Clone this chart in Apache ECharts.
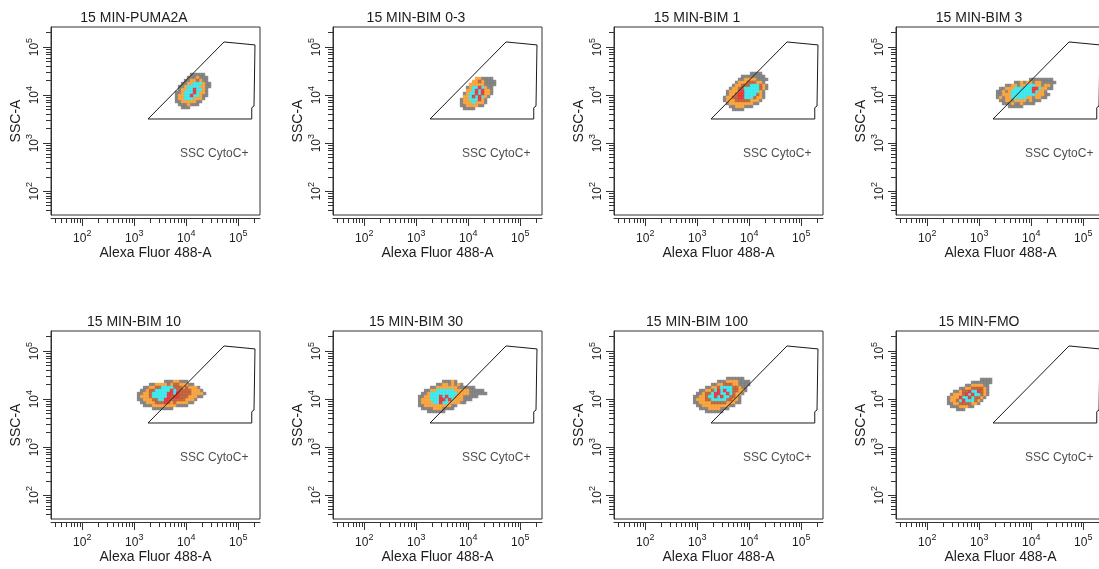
<!DOCTYPE html>
<html>
<head>
<meta charset="utf-8">
<script src="https://cdn.jsdelivr.net/npm/echarts@6/dist/echarts.min.js"></script>
<style>
  html, body { margin: 0; padding: 0; background: #fff; }
  #chart { width: 1099px; height: 569px; }
</style>
</head>
<body>
<div id="chart"></div>
<script>
// ---- data ----
const panelTitles = ['15 MIN-PUMA2A', '15 MIN-BIM 0-3', '15 MIN-BIM 1', '15 MIN-BIM 3',
                     '15 MIN-BIM 10', '15 MIN-BIM 30', '15 MIN-BIM 100', '15 MIN-FMO'];
const xName = 'Alexa Fluor 488-A';
const yName = 'SSC-A';
const gateName = 'SSC CytoC+';

// axis ranges (linear units, shown on log scale)
const xRange = [25, 262144];
const yRange = [32, 262144];
const decades = [2, 3, 4, 5];          // 10^n labels
const minorSteps = [2, 3, 4, 5, 6, 7, 8, 9];

// gate polygon (same in every panel)
const gateX = [1840, 53300, 210000, 201000, 182000, 182000, 1840];
const gateY = [3190, 128000, 111000, 5940, 5480, 3190, 3190];
const gateLabelX = 7600;
const gateLabelY = 594;

// density maps: top-left cell of each blob and its rows of levels
// . empty, g low, o, b, c, r high
const blobOriginX = [6500, 7430, 3350, 2250, 1210, 1160, 890, 257];
const blobOriginY = [26900, 22200, 28300, 21200, 23300, 23300, 26900, 25700];
const blobStepDec = [0.0577, 0.0625];
const blobs = [
  [ // PUMA2A
    '.....ggggg..',
    '....gggoggg.',
    '...ggoobogg.',
    '..ggoocccogg',
    '.ggoccccoogg',
    '.gooccrccog.',
    'ggocccrcoog.',
    'gooccrccogg.',
    'goocccooog..',
    'ggooooogg...',
    '.gggoggg....',
    '..ggg.......'
  ],
  [ // BIM 0-3
    '.....oogggg.',
    '....oobogggg',
    '...ooooogggg',
    '..goccrcogg.',
    '..oocrcroog.',
    '.goccrcroog.',
    '.oocrcrcog..',
    'goocccrog...',
    'gooocooog...',
    'ggoooogg....',
    '.gggg.......'
  ],
  [ // BIM 1
    '.........gggg..',
    '......gggggggg.',
    '.....ggoooogggg',
    '....gooobbboog.',
    '...goobbbcccbog',
    '..goobbcccccbog',
    '.gooobrcccccog.',
    '.goobrrccccbog.',
    'goobbrrcccboog.',
    'gooobbbbbooog..',
    '.goooooooogg...',
    '..ggoooggg.....',
    '...gggg........'
  ],
  [ // BIM 3
    '...........gggggggg.',
    '......ggogoogooggggg',
    '...ggoogoocccoogoog.',
    '.ggoooccccccrrcoogg.',
    'ggogocccccccrcoog...',
    'ggoooccccccccooogg..',
    'gogoocccccoogoogg...',
    '.ggoogoooogoggg.....',
    '..gggoggogggg.......',
    '....ggggg...........'
  ],
  [ // BIM 10
    '.........gggooggg......',
    '....ggoooobobbooogg....',
    '..ggoobbccccbbbobooog..',
    '.ggobbcccccrcbbbbbooog.',
    'ggoobcccccrrcrbbbboooog',
    'gooobcccccrbrrbbbooogg.',
    'ggooobbccrrbbbbbooog...',
    '.ggooobbbrboboooogg....',
    '..gggoooooooogggg......',
    '.....ggggggg...........'
  ],
  [ // BIM 30
    '........gggog..........',
    '......ggoogogog........',
    '....ggooooooogggggg....',
    '..ggooccccccoooooggggg.',
    '.ggocccccccccoooogggggg',
    'ggoocccrcrccoooggggg...',
    'gooocccrrcrcoooggg.....',
    'gooooccrccoooogg.......',
    'ggooooooooogg..........',
    '.ggggooogggg...........',
    '...gggggg..............'
  ],
  [ // BIM 100
    '...........gggggg..',
    '........gggoooogggg',
    '......ggoobbboogggg',
    '....ggoobccccbbogg.',
    '..ggoobcrcrccbboog.',
    '.ggobbcrrccrcboog..',
    'ggoobccrcrccbbog...',
    'gooobbcccccbboog...',
    'ggoooobbbbbooogg...',
    '.ggooooooooogg.....',
    '..gggooooggg.......',
    '....gggggg.........'
  ],
  [ // FMO
    '...........gggg',
    '........ggggggg',
    '......ggoooogg.',
    '....ggoobbbbog.',
    '..ggobbrccrbog.',
    '.gooobrcrccbog.',
    'gooorccrcbbog..',
    'goobcrcccbog...',
    'ggoobbbboog....',
    '.gggooogg......',
    '...ggg.........'
  ]
];

// ---- styles / layout ----
const levelOrder = 'gobcr';
const levelColors = { g: '#6b6b6b', o: '#f7941d', b: '#b4491c', c: '#1ee3e8', r: '#e3141b' };
const colLeft = [51, 333, 614, 896];
const rowTop = [27, 331];
const boxW = 209, boxH = 188;
const ink = '#1c1c1c';
const font = 'Liberation Sans, Arial, sans-serif';

const lg = Math.log10;
const xLo = lg(xRange[0]), xHi = lg(xRange[1]);
const yLo = lg(yRange[0]), yHi = lg(yRange[1]);

function minorTicks(lo, hi) {
  const out = [];
  for (let n = 1; n <= 5; n++) {
    minorSteps.forEach(k => {
      const v = lg(k * Math.pow(10, n));
      if (v > lo && v < hi) out.push(v);
    });
  }
  return out;
}
const minorX = minorTicks(xLo, xHi);
const minorY = minorTicks(yLo, yHi);

const supRich = {
  b: { fontSize: 12, color: ink, fontFamily: font, verticalAlign: 'bottom', lineHeight: 13 },
  s: { fontSize: 9, color: ink, fontFamily: font, verticalAlign: 'bottom', lineHeight: 13, padding: [0, 0, 7, 0] }
};
const supLabel = v => '{b|10}{s|' + Math.round(v) + '}';

function blobCells(i) {
  const x0 = lg(blobOriginX[i]), y0 = lg(blobOriginY[i]);
  const out = [];
  for (const lvl of levelOrder) {
    blobs[i].forEach((row, r) => {
      for (let c = 0; c < row.length; c++) {
        if (row[c] !== lvl) continue;
        out.push({
          value: [x0 + c * blobStepDec[0], y0 - r * blobStepDec[1]],
          itemStyle: { color: levelColors[lvl] }
        });
      }
    });
  }
  return out;
}

const grids = [], xAxes = [], yAxes = [], series = [], titles = [];

panelTitles.forEach((name, i) => {
  const left = colLeft[i % 4], top = rowTop[Math.floor(i / 4)];
  grids.push({
    left: left, top: top, width: boxW, height: boxH,
    show: true, borderColor: '#333', borderWidth: 1, backgroundColor: '#fff',
    outerBoundsMode: 'none', containLabel: false
  });
  titles.push({
    text: name, left: left + 83, top: top - 16, textAlign: 'center', padding: 0,
    textStyle: { fontSize: 14, fontWeight: 'normal', color: ink, fontFamily: font }
  });

  const lineStyle = { color: '#333', width: 1 };
  xAxes.push({
    type: 'value', gridIndex: i, min: xLo, max: xHi, position: 'bottom', offset: 3,
    axisLine: { show: true, onZero: false, lineStyle },
    axisTick: { show: true, customValues: decades, length: 8, lineStyle },
    axisLabel: { show: true, customValues: decades, margin: 14, formatter: supLabel, rich: supRich },
    splitLine: { show: false },
    name: xName, nameLocation: 'middle', nameGap: 27,
    nameTextStyle: { fontSize: 14, color: ink, fontFamily: font }
  }, {
    type: 'value', gridIndex: i, min: xLo, max: xHi, position: 'bottom', offset: 3,
    axisLine: { show: false, onZero: false },
    axisTick: { show: true, customValues: minorX, length: 5, lineStyle },
    axisLabel: { show: false }, splitLine: { show: false }
  });
  yAxes.push({
    type: 'value', gridIndex: i, min: yLo, max: yHi, position: 'left', offset: 0,
    axisLine: { show: true, onZero: false, lineStyle },
    axisTick: { show: true, customValues: decades, length: 8, lineStyle },
    axisLabel: { show: true, customValues: decades, margin: 10, rotate: 90, formatter: supLabel, rich: supRich },
    splitLine: { show: false },
    name: yName, nameLocation: 'middle', nameGap: 28,
    nameTextStyle: { fontSize: 14, color: ink, fontFamily: font }
  }, {
    type: 'value', gridIndex: i, min: yLo, max: yHi, position: 'left', offset: 0,
    axisLine: { show: false, onZero: false },
    axisTick: { show: true, customValues: minorY, length: 5, lineStyle },
    axisLabel: { show: false }, splitLine: { show: false }
  });

  const xi = 2 * i, yi = 2 * i;
  series.push({
    type: 'scatter', xAxisIndex: xi, yAxisIndex: yi, silent: true, z: 2,
    symbol: 'rect', symbolSize: [3.4, 3.4], data: blobCells(i)
  }, {
    type: 'line', xAxisIndex: xi, yAxisIndex: yi, silent: true, z: 3,
    symbol: 'none', lineStyle: { color: '#1a1a1a', width: 1 },
    data: gateX.map((x, k) => [lg(x), lg(gateY[k])])
  }, {
    type: 'scatter', xAxisIndex: xi, yAxisIndex: yi, silent: true, z: 4,
    symbolSize: 0, data: [[lg(gateLabelX), lg(gateLabelY)]],
    label: { show: true, position: 'right', distance: 0, formatter: gateName,
             fontSize: 12, color: ink, fontFamily: font }
  });
});

const chart = echarts.init(document.getElementById('chart'), null, { renderer: 'canvas' });
chart.setOption({
  animation: false,
  backgroundColor: '#fff',
  textStyle: { fontFamily: font },
  title: titles,
  grid: grids,
  xAxis: xAxes,
  yAxis: yAxes,
  series: series
});
</script>
</body>
</html>
